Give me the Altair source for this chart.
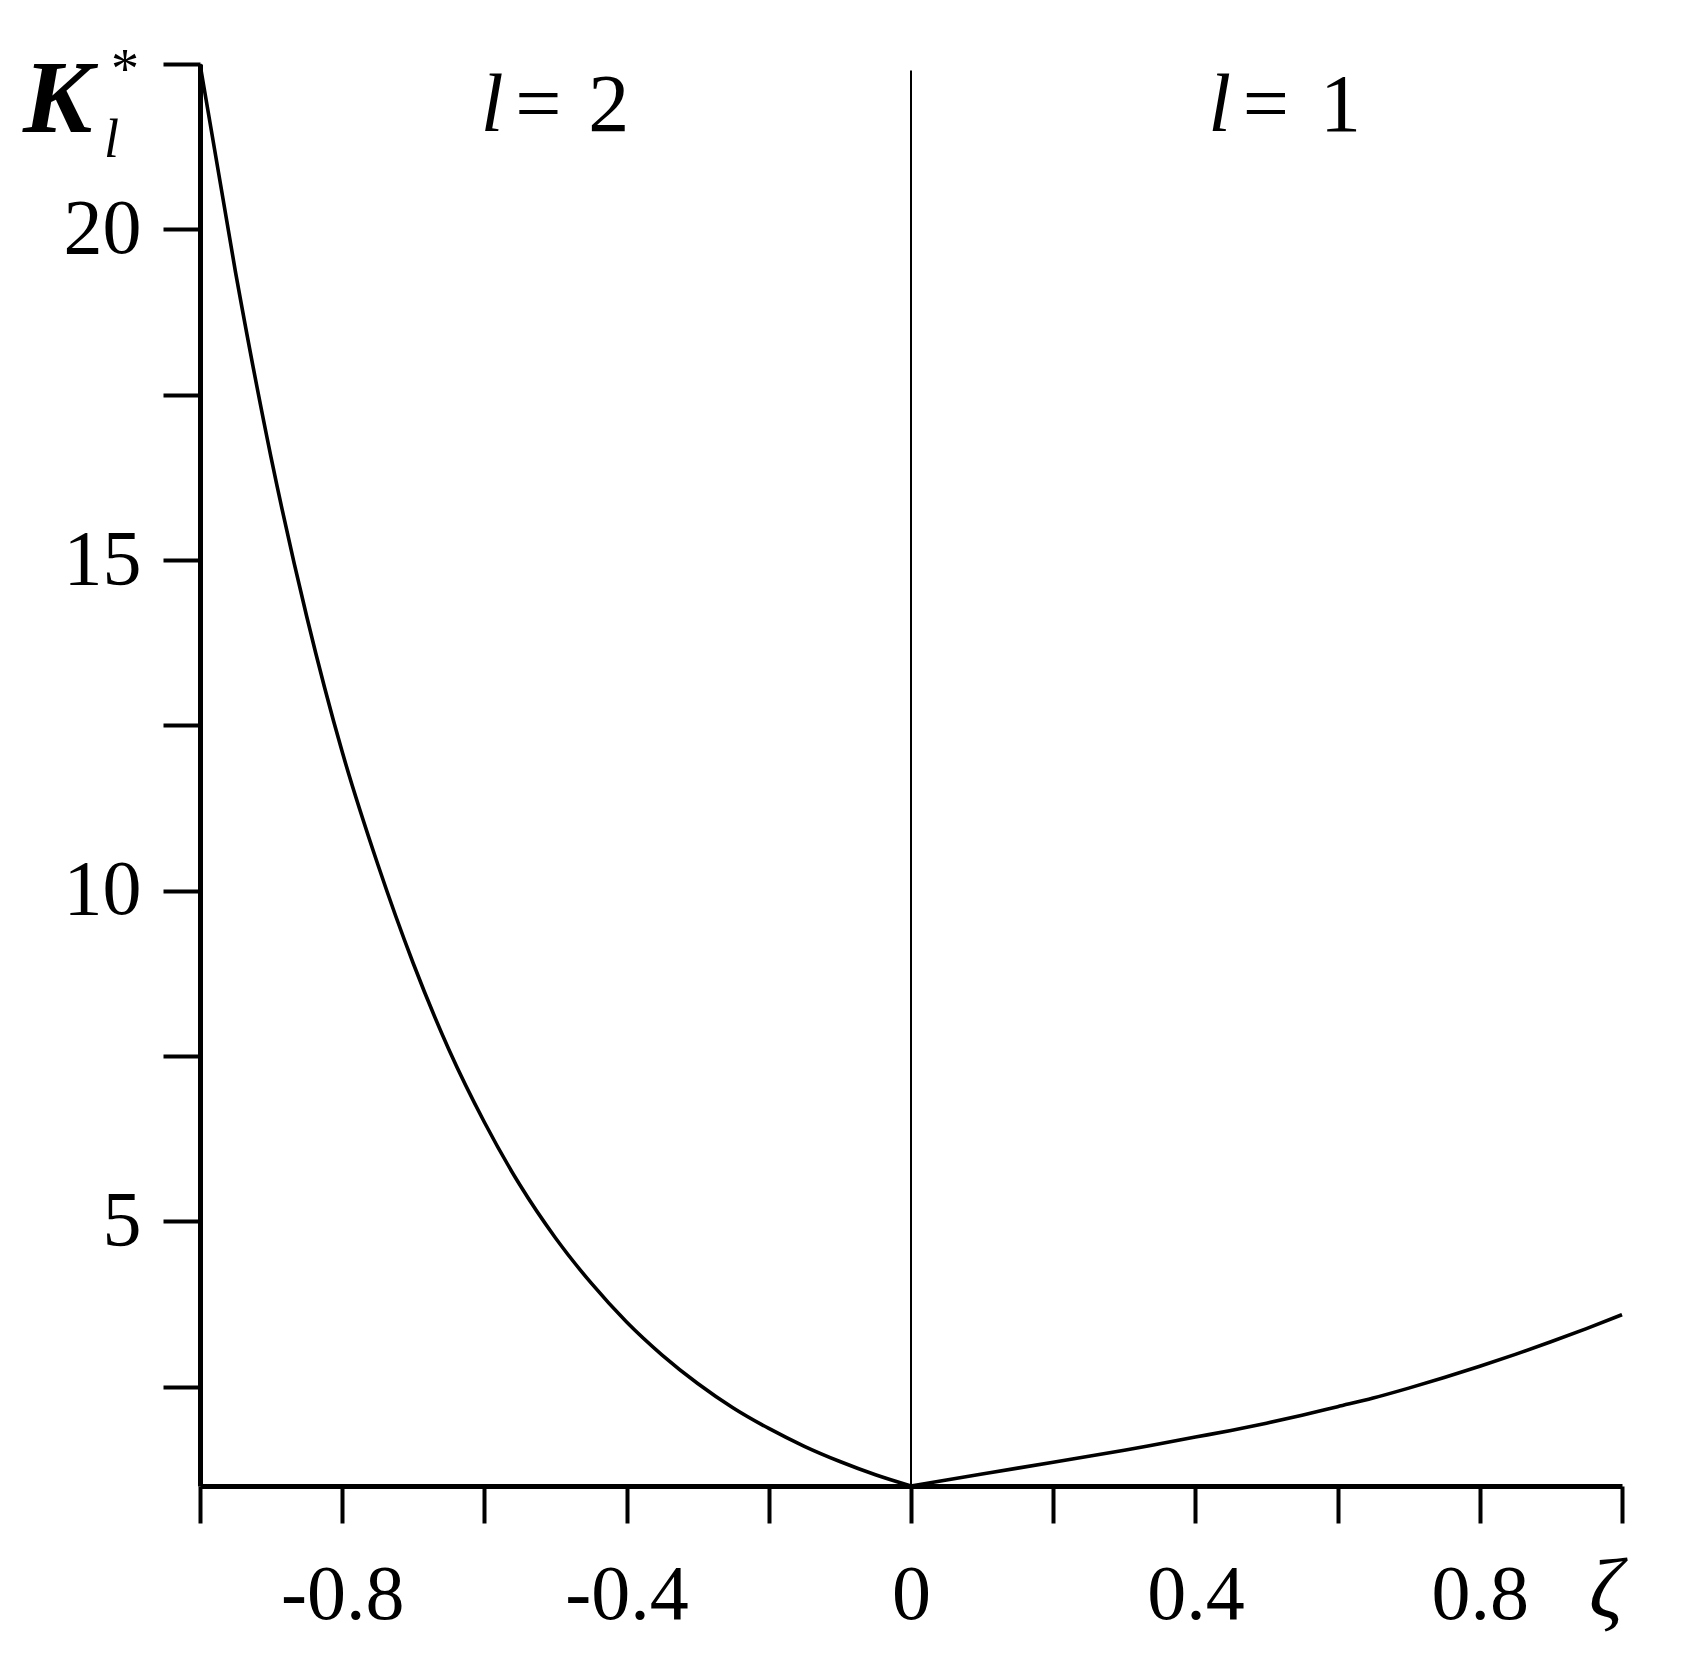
import altair as alt
import pandas as pd

# l = 2 branch (zeta < 0)
zeta_l2 = [-1.00, -0.95, -0.90, -0.85, -0.80, -0.75, -0.70, -0.65, -0.60, -0.55, -0.50,
           -0.45, -0.40, -0.35, -0.30, -0.25, -0.20, -0.15, -0.10, -0.05, 0.00]
k_l2 = [22.5, 19.35, 16.55, 14.15, 12.1, 10.4, 8.9, 7.6, 6.5, 5.55, 4.75,
        4.07, 3.48, 2.98, 2.55, 2.18, 1.87, 1.60, 1.37, 1.17, 1.00]

# l = 1 branch (zeta > 0)
zeta_l1 = [0.00, 0.05, 0.10, 0.15, 0.20, 0.25, 0.30, 0.35, 0.40, 0.45, 0.50,
           0.55, 0.60, 0.65, 0.70, 0.75, 0.80, 0.85, 0.90, 0.95, 1.00]
k_l1 = [1.00, 1.09, 1.18, 1.27, 1.36, 1.45, 1.54, 1.64, 1.74, 1.84, 1.95,
        2.07, 2.20, 2.33, 2.48, 2.64, 2.81, 2.99, 3.18, 3.38, 3.59]

x_ticks = [-1.0, -0.8, -0.6, -0.4, -0.2, 0.0, 0.2, 0.4, 0.6, 0.8, 1.0]
x_labels = {-0.8: "-0.8", -0.4: "-0.4", 0.0: "0", 0.4: "0.4", 0.8: "0.8"}
y_ticks = [2.5, 5, 7.5, 10, 12.5, 15, 17.5, 20, 22.5]
y_labels = {5: "5", 10: "10", 15: "15", 20: "20"}

# region annotations "l = 2", "l = 1"
ann_italic = ["l", "l"]
ann_italic_x = [-0.589, 0.434]
ann_plain = ["=", "2", "=", "1"]
ann_plain_x = [-0.524, -0.425, 0.499, 0.604]
ann_y = 21.48

FONT = "Liberation Serif"

df = pd.DataFrame(
    {"zeta": zeta_l2 + zeta_l1,
     "K": k_l2 + k_l1,
     "branch": ["l2"] * len(zeta_l2) + ["l1"] * len(zeta_l1)}
)


def label_expr(d):
    expr = "''"
    for v, t in d.items():
        expr = f"abs(datum.value - ({v})) < 1e-6 ? '{t}' : ({expr})"
    return expr


xscale = alt.Scale(domain=[-1, 1], nice=False, zero=False)
yscale = alt.Scale(domain=[1, 22.5], nice=False, zero=False)

axis_style = dict(grid=False, domainColor="black", domainWidth=5, tickColor="black",
                  tickWidth=4, tickSize=37, labelFont=FONT, labelFontSize=78,
                  labelColor="black", title=None)

x_axis = alt.Axis(values=x_ticks, labelExpr=label_expr(x_labels),
                  labelPadding=33, labelAngle=0, **axis_style)
y_axis = alt.Axis(values=y_ticks, labelExpr=label_expr(y_labels),
                  labelPadding=22, **axis_style)

curve = alt.Chart(df).mark_line(color="black", strokeWidth=3.6, interpolate="monotone").encode(
    x=alt.X("zeta:Q", scale=xscale, axis=x_axis),
    y=alt.Y("K:Q", scale=yscale, axis=y_axis),
    detail="branch:N",
)

vline_df = pd.DataFrame({"zeta": [0.0], "k0": [1.0], "k1": [22.4]})
vline = alt.Chart(vline_df).mark_rule(color="black", strokeWidth=2).encode(
    x=alt.X("zeta:Q", scale=xscale),
    y=alt.Y("k0:Q", scale=yscale),
    y2="k1:Q",
)

it_df = pd.DataFrame({"x": ann_italic_x, "t": ann_italic, "y": [ann_y] * len(ann_italic)})
pl_df = pd.DataFrame({"x": ann_plain_x, "t": ann_plain, "y": [ann_y] * len(ann_plain)})

ann_it = alt.Chart(it_df).mark_text(font=FONT, fontSize=82, fontStyle="italic",
                                    baseline="alphabetic", align="center", color="black").encode(
    x=alt.X("x:Q", scale=xscale), y=alt.Y("y:Q", scale=yscale), text="t:N")
ann_pl = alt.Chart(pl_df).mark_text(font=FONT, fontSize=82,
                                    baseline="alphabetic", align="center", color="black").encode(
    x=alt.X("x:Q", scale=xscale), y=alt.Y("y:Q", scale=yscale), text="t:N")

# axis titles: K_l^* and zeta
k_title = alt.Chart(pd.DataFrame({"t": ["K"]})).mark_text(
    font=FONT, fontSize=104, fontStyle="italic", fontWeight="bold", align="left",
    baseline="alphabetic", color="black").encode(x=alt.value(-177), y=alt.value(68), text="t:N")
k_sub = alt.Chart(pd.DataFrame({"t": ["l"]})).mark_text(
    font=FONT, fontSize=54, fontStyle="italic", align="left",
    baseline="alphabetic", color="black").encode(x=alt.value(-96), y=alt.value(93), text="t:N")
k_sup = alt.Chart(pd.DataFrame({"t": ["*"]})).mark_text(
    font=FONT, fontSize=56, align="left",
    baseline="alphabetic", color="black").encode(x=alt.value(-89), y=alt.value(24), text="t:N")
z_title = alt.Chart(pd.DataFrame({"t": ["ζ"]})).mark_text(
    font=FONT, fontSize=84, fontStyle="italic", align="center",
    baseline="alphabetic", color="black").encode(x=alt.value(1406), y=alt.value(1553), text="t:N")

chart = alt.layer(vline, curve, ann_it, ann_pl, k_title, k_sub, k_sup, z_title).properties(
    width=1422, height=1422,
    autosize="none",
    background="white",
    padding={"left": 192, "top": 56, "right": 77, "bottom": 181},
).configure_view(stroke=None)

chart.save("out.html", embed_options={"renderer": "svg", "actions": False})
